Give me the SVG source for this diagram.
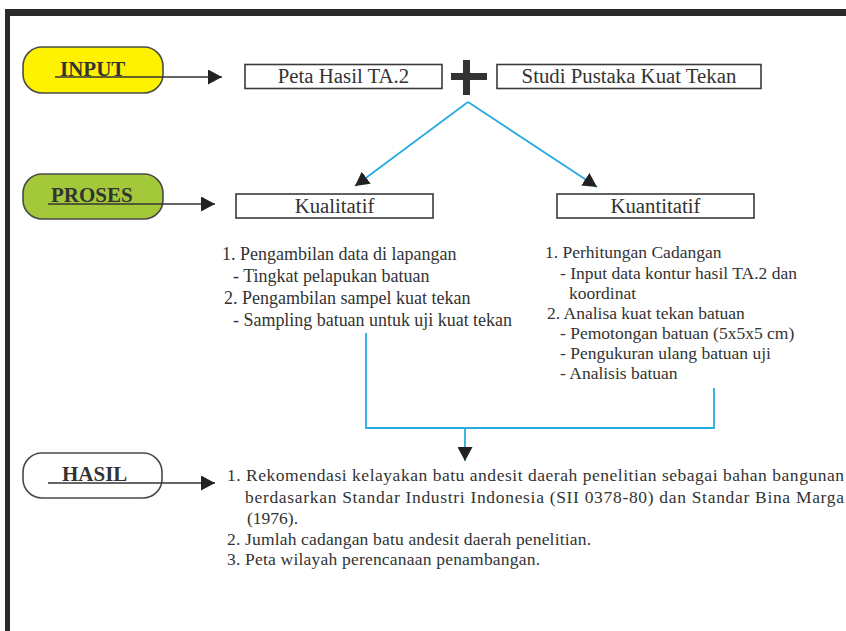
<svg xmlns="http://www.w3.org/2000/svg" width="846" height="631" viewBox="0 0 846 631">
<defs>
<style>
.frame{fill:#2a2a2a}
.pill{stroke:#4a4a4a;stroke-width:1.6}
.box{fill:#fff;stroke:#3a3a3a;stroke-width:1.6}
.lbl{font-family:'Liberation Serif','Times New Roman',Times,'DejaVu Serif',serif;font-weight:700;font-size:21px;fill:#333}
.bt{font-family:'Liberation Serif','Times New Roman',Times,'DejaVu Serif',serif;font-weight:400;font-size:20.8px;fill:#333;text-anchor:middle}
.tx{font-family:'Liberation Serif','Times New Roman',Times,'DejaVu Serif',serif;font-weight:400;font-size:17.5px;fill:#333}
.tl{font-size:18px}
.dark{fill:none;stroke:#333;stroke-width:1.6}
.blue{fill:none;stroke:#29abe2;stroke-width:1.8}
</style>
<marker id="ah" markerUnits="userSpaceOnUse" markerWidth="14" markerHeight="15" refX="14" refY="7.5" orient="auto">
<path d="M0,0 L14,7.5 L0,15 z" fill="#222"/>
</marker>
</defs>
<rect width="846" height="631" fill="#fff"/>
<rect class="frame" x="5" y="9" width="841" height="7"/>
<rect class="frame" x="5" y="9" width="5" height="622"/>

<g id="input">
<rect class="pill" x="23" y="47" width="140" height="46" rx="19" fill="#fff200"/>
<text class="lbl" x="60" y="76">INPUT</text>
</g>
<g id="peta">
<rect class="box" x="245" y="64.5" width="197" height="24"/>
<text class="bt" x="343.5" y="83">Peta Hasil TA.2</text>
</g>
<g id="plus">
<rect x="463" y="60" width="7" height="35" fill="#333"/>
<rect x="451" y="73" width="36" height="7" fill="#333"/>
</g>
<g id="studi">
<rect class="box" x="497" y="64.5" width="264" height="24"/>
<text class="bt" x="629" y="83">Studi Pustaka Kuat Tekan</text>
</g>

<g id="proses">
<rect class="pill" x="23" y="174" width="140" height="45" rx="19" fill="#a3c93a"/>
<text class="lbl" x="51" y="202">PROSES</text>
</g>
<g id="kualitatif">
<rect class="box" x="236" y="194" width="197" height="24"/>
<text class="bt" x="334.5" y="213">Kualitatif</text>
</g>
<g id="kuantitatif">
<rect class="box" x="557" y="194" width="197" height="24"/>
<text class="bt" x="655.5" y="213">Kuantitatif</text>
</g>

<g id="kualitatif-list">
<text class="tx tl" x="222" y="260">1. Pengambilan data di lapangan</text>
<text class="tx tl" x="233" y="282">- Tingkat pelapukan batuan</text>
<text class="tx tl" x="224" y="304">2. Pengambilan sampel kuat tekan</text>
<text class="tx tl" x="233" y="326" textLength="279" lengthAdjust="spacing">- Sampling batuan untuk uji kuat tekan</text>
</g>
<g id="kuantitatif-list">
<text class="tx" x="545" y="258">1. Perhitungan Cadangan</text>
<text class="tx" x="560" y="279">- Input data kontur hasil TA.2 dan</text>
<text class="tx" x="569" y="299">koordinat</text>
<text class="tx" x="547" y="319">2. Analisa kuat tekan batuan</text>
<text class="tx" x="560" y="339">- Pemotongan batuan (5x5x5 cm)</text>
<text class="tx" x="560" y="359">- Pengukuran ulang batuan uji</text>
<text class="tx" x="560" y="379">- Analisis batuan</text>
</g>

<g id="hasil">
<rect class="pill" x="23" y="453" width="139" height="45" rx="19" fill="#fff"/>
<text class="lbl" x="62" y="481">HASIL</text>
</g>
<g id="hasil-list">
<text class="tx" x="227" y="481" textLength="617" lengthAdjust="spacing">1. Rekomendasi kelayakan batu andesit daerah penelitian sebagai bahan bangunan</text>
<text class="tx" x="245" y="503" textLength="599" lengthAdjust="spacing">berdasarkan Standar Industri Indonesia (SII 0378-80) dan Standar Bina Marga</text>
<text class="tx" x="247" y="524">(1976).</text>
<text class="tx" x="227" y="545" textLength="364" lengthAdjust="spacing">2. Jumlah cadangan batu andesit daerah penelitian.</text>
<text class="tx" x="227" y="565" textLength="313" lengthAdjust="spacing">3. Peta wilayah perencanaan penambangan.</text>
</g>

<g id="connectors">
<line class="dark" x1="55" y1="77" x2="222" y2="77" marker-end="url(#ah)"/>
<line class="dark" x1="48" y1="204" x2="215" y2="204" marker-end="url(#ah)"/>
<line class="dark" x1="48" y1="483" x2="215" y2="483" marker-end="url(#ah)"/>
<line class="blue" x1="468" y1="102" x2="355" y2="186" marker-end="url(#ah)"/>
<line class="blue" x1="468" y1="102" x2="597" y2="187" marker-end="url(#ah)"/>
<polyline class="blue" points="366,333 366,428 714,428 714,388"/>
<line class="blue" x1="465" y1="428" x2="465" y2="461" marker-end="url(#ah)"/>
</g>
</svg>
